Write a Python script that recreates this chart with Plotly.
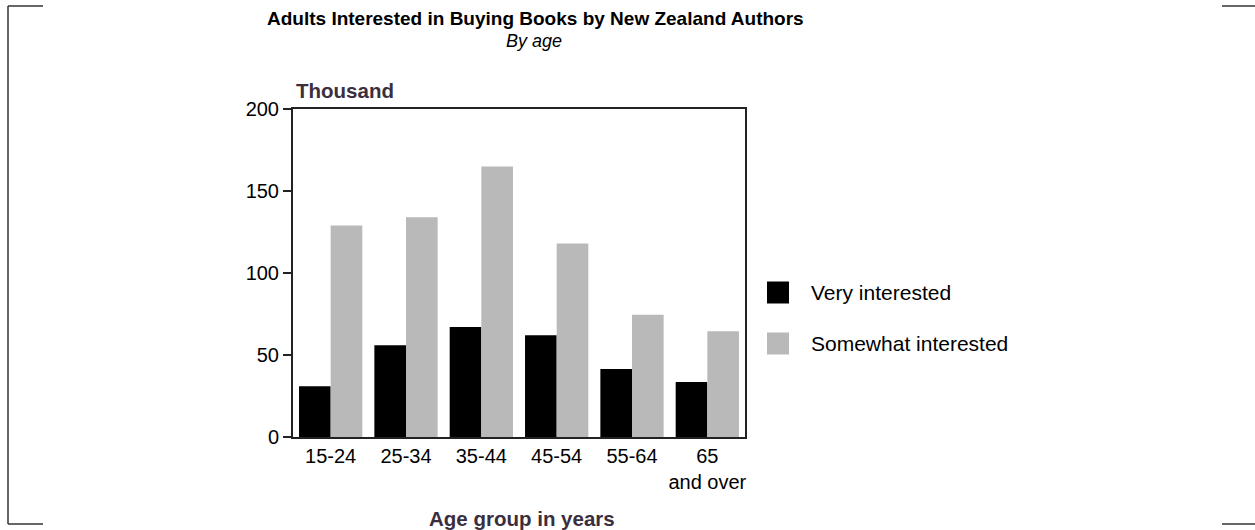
import plotly.graph_objects as go

# Survey figures, thousands of adults
age_groups = ["15-24", "25-34", "35-44", "45-54", "55-64", "65<br>and over"]
very_interested = [31, 56, 67, 62, 41.5, 33.5]
somewhat_interested = [129, 134, 165, 118, 74.5, 64.5]
series_names = ["Very interested", "Somewhat interested"]
series_colors = ["#000000", "#b9b9b9"]
y_ticks = [0, 50, 100, 150, 200]

W, H = 1255, 530
L, R, T, B = 293, 745, 109, 437  # plot area edges in pixels


def px(x):
    return (x - L) / (R - L)


def py(y):
    return (B - y) / (B - T)


BODY = "Liberation Sans, Arial, sans-serif"
LABEL_COLOR = "#3b2e3e"

fig = go.Figure()
for name, vals, col in zip(series_names, [very_interested, somewhat_interested], series_colors):
    fig.add_trace(go.Bar(x=age_groups, y=vals, name=name, marker=dict(color=col, line=dict(width=0)),
                         showlegend=False))

shapes = []
annotations = []

# legend swatches and labels
for i, (name, col) in enumerate(zip(series_names, series_colors)):
    cy = 292.5 + i * 51
    shapes.append(dict(type="rect", xref="paper", yref="paper",
                       x0=px(767), x1=px(789), y0=py(cy + 11), y1=py(cy - 11),
                       fillcolor=col, line=dict(width=0)))
    annotations.append(dict(text=name, xref="paper", yref="paper", x=px(809), y=py(cy),
                            xanchor="left", yanchor="middle", showarrow=False,
                            font=dict(family=BODY, size=21, color="#000")))

# corner crop marks
line_style = dict(color="#333", width=1.5)
for seg in [((8, 6), (43, 6)), ((8, 6), (8, 524)), ((8, 524), (43, 524)),
            ((1222, 6), (1255, 6)), ((1222, 524), (1255, 524))]:
    (x0, y0), (x1, y1) = seg
    shapes.append(dict(type="line", xref="paper", yref="paper",
                       x0=px(x0), y0=py(y0), x1=px(x1), y1=py(y1), line=line_style))

# titles
annotations += [
    dict(text="<b>Adults Interested in Buying Books by New Zealand Authors</b>",
         xref="paper", yref="paper", x=px(535), y=py(18), xanchor="center", yanchor="middle",
         showarrow=False, font=dict(family=BODY, size=19, color="#000")),
    dict(text="<i>By age</i>", xref="paper", yref="paper", x=px(534), y=py(41),
         xanchor="center", yanchor="middle", showarrow=False,
         font=dict(family=BODY, size=18, color="#000")),
    dict(text="<b>Thousand</b>", xref="paper", yref="paper", x=px(294), y=py(90),
         xanchor="left", yanchor="middle", showarrow=False,
         font=dict(family=BODY, size=20.5, color=LABEL_COLOR)),
    dict(text="<b>Age group in years</b>", xref="paper", yref="paper", x=px(522), y=py(518),
         xanchor="center", yanchor="middle", showarrow=False,
         font=dict(family=BODY, size=20.5, color=LABEL_COLOR)),
]

fig.update_layout(
    width=W, height=H,
    margin=dict(l=L, r=W - R, t=T, b=H - B, pad=0),
    paper_bgcolor="white", plot_bgcolor="white",
    barmode="group", bargap=0.16, bargroupgap=0,
    font=dict(family=BODY, size=20, color="#000"),
    shapes=shapes, annotations=annotations,
    xaxis=dict(showline=True, linecolor="#222", linewidth=2, mirror=True,
               ticks="", showgrid=False, tickfont=dict(size=20), ticklabelstandoff=0),
    yaxis=dict(range=[0, 200], tickvals=y_ticks, showline=True, linecolor="#222", linewidth=2,
               mirror=True, ticks="outside", ticklen=8, tickwidth=1.5, tickcolor="#222",
               showgrid=False, zeroline=False, tickfont=dict(size=20)),
)

fig.write_html("out.html")
